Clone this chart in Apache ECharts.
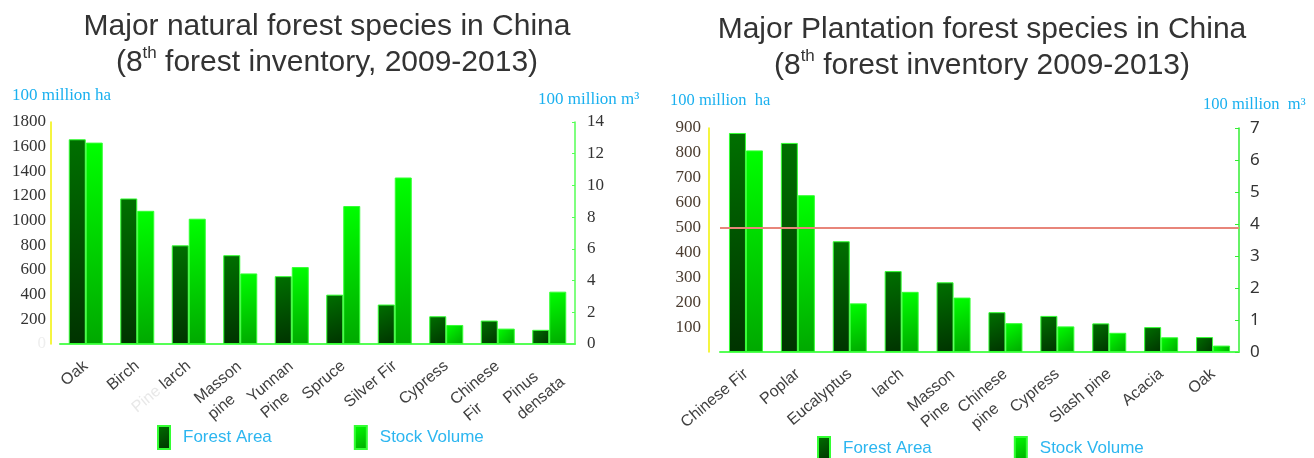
<!DOCTYPE html>
<html>
<head>
<meta charset="utf-8">
<script src="https://cdn.jsdelivr.net/npm/echarts@6/dist/echarts.min.js"></script>
<style>
  html, body { margin: 0; padding: 0; background: #fff; }
  #main { width: 1314px; height: 458px; }
</style>
</head>
<body>
<div id="main"></div>
<script>
// natural forest (left chart)
var naturalSpecies = ['Oak', 'Birch', 'larch', 'Masson\npine', 'Yunnan\nPine', 'Spruce', 'Silver Fir', 'Cypress', 'Chinese\nFir', 'Pinus\ndensata']
var naturalArea = [1660, 1180, 800, 720, 550, 400, 320, 225, 190, 115]
var naturalVolume = [12.7, 8.4, 7.9, 4.45, 4.85, 8.7, 10.5, 1.2, 0.97, 3.3]

// plantation forest (right chart)
var plantSpecies = ['Chinese Fir', 'Poplar', 'Eucalyptus', 'larch', 'Masson\nPine', 'Chinese\npine', 'Cypress', 'Slash pine', 'Acacia', 'Oak']
var plantArea = [880, 840, 445, 325, 280, 160, 145, 115, 100, 60]
var plantVolume = [6.3, 4.9, 1.52, 1.88, 1.7, 0.9, 0.8, 0.6, 0.46, 0.2]

var legendNames = ['Forest Area', 'Stock Volume']

var darkFill = new echarts.graphic.LinearGradient(0, 0, 1, 1, [
  { offset: 0, color: '#007000' },
  { offset: 1, color: '#003300' }
])
var lightFill = new echarts.graphic.LinearGradient(0, 0, 1, 1, [
  { offset: 0, color: '#00ff00' },
  { offset: 1, color: '#00a800' }
])

var titleFont = 'Liberation Sans, Arial, sans-serif'
var serifFont = 'Liberation Serif, Times New Roman, serif'
var labelSize = 16

// measure label lines so two-line labels stay left aligned
var ctx = document.createElement('canvas').getContext('2d')
ctx.font = labelSize + 'px Liberation Sans'
function textW(s) { return Math.ceil(ctx.measureText(s).width) }

function buildRich(cats) {
  var rich = { g: { color: '#e8e8e8', fontFamily: titleFont, fontSize: labelSize } }
  cats.forEach(function (c, i) {
    var lines = c.split('\n')
    if (lines.length > 1) {
      rich['w' + i] = {
        width: Math.max.apply(null, lines.map(textW)), align: 'left',
        fontFamily: titleFont, fontSize: labelSize, color: '#404040', lineHeight: 21
      }
    }
  })
  return rich
}

function labelFormatter(cats, ghost) {
  return function (v, idx) {
    var lines = v.split('\n')
    if (lines.length > 1) {
      var key = 'w' + idx
      return '{' + key + '| }\n' + lines.map(function (l) { return '{' + key + '|' + l + '}' }).join('\n')
    }
    if (ghost && v === 'larch') return '{g|Pine }larch'
    return v
  }
}

function mainTitle(x, y, line1, line2a, line2b) {
  return {
    left: x, top: y, textAlign: 'center', padding: 0,
    text: line1 + '\n{a|' + line2a + '}{s|th}{a|' + line2b + '}',
    textStyle: {
      fontFamily: titleFont, fontSize: 30, fontWeight: 'normal', color: '#333', lineHeight: 36,
      rich: {
        a: { fontFamily: titleFont, fontSize: 30, color: '#333', lineHeight: 36 },
        s: { fontFamily: titleFont, fontSize: 17, color: '#333', verticalAlign: 'top', lineHeight: 30 }
      }
    }
  }
}

function unitTitle(x, y, txt, size) {
  return {
    left: x, top: y, padding: 0, text: txt,
    textStyle: { fontFamily: serifFont, fontSize: size, fontWeight: 'normal', color: '#1ab0ef' }
  }
}

function barAxis(grid, cats, ghost) {
  return {
    type: 'category', gridIndex: grid, data: cats,
    axisLine: { lineStyle: { color: '#55ff55', width: 2 } },
    axisTick: { show: false },
    axisLabel: {
      rotate: 40, margin: 20, interval: 0,
      fontFamily: titleFont, fontSize: labelSize, color: '#404040', lineHeight: 21,
      formatter: labelFormatter(cats, ghost),
      rich: buildRich(cats)
    }
  }
}

function legendAt(x, y) {
  return {
    left: x, top: y, padding: 0, itemWidth: 12, itemHeight: 23, itemGap: 82, icon: 'rect',
    data: legendNames,
    textStyle: { fontFamily: titleFont, fontSize: 17, color: '#2cb6f0', padding: [0, 0, 0, 8] }
  }
}

var barBorder = { borderColor: '#33ff33', borderWidth: 1 }

var option = {
  backgroundColor: '#fff',
  animation: false,
  title: [
    mainTitle(327, 9, 'Major natural forest species in China', '(8', ' forest inventory, 2009-2013)'),
    mainTitle(982, 12, 'Major Plantation forest species in China', '(8', ' forest inventory 2009-2013)'),
    unitTitle(12, 87, '100 million ha', 17),
    unitTitle(538, 91, '100 million m³', 17),
    unitTitle(670, 92, '100 million  ha', 16.5),
    unitTitle(1203, 96, '100 million  m³', 16.5)
  ],
  legend: [legendAt(157, 425), legendAt(817, 436)],
  grid: [
    { left: 60, width: 515, top: 122, height: 222 },
    { left: 720, width: 519, top: 128, height: 224 }
  ],
  xAxis: [
    barAxis(0, naturalSpecies, true),
    barAxis(1, plantSpecies, false)
  ],
  yAxis: [
    {
      type: 'value', gridIndex: 0, position: 'left', offset: 9,
      min: 0, max: 1800, interval: 200, splitLine: { show: false },
      axisLine: { show: true, lineStyle: { color: '#f2f200', width: 1.5 } },
      axisTick: { show: false },
      axisLabel: {
        margin: 5, fontFamily: serifFont, fontSize: 17, color: '#333',
        formatter: function (v) { return v === 0 ? '{f|0}' : v },
        rich: { f: { color: '#eeeeee', fontFamily: serifFont, fontSize: 17 } }
      }
    },
    {
      type: 'value', gridIndex: 0, position: 'right',
      min: 0, max: 14, interval: 2, splitLine: { show: false },
      axisLine: { show: true, lineStyle: { color: '#55ff55', width: 1.5 } },
      axisTick: { show: true, inside: true, length: 3, lineStyle: { color: '#55ff55' } },
      axisLabel: { margin: 12, fontFamily: serifFont, fontSize: 17, color: '#333' }
    },
    {
      type: 'value', gridIndex: 1, position: 'left', offset: 11,
      min: 0, max: 900, interval: 100, splitLine: { show: false },
      axisLine: { show: true, lineStyle: { color: '#f2f200', width: 1.5 } },
      axisTick: { show: false },
      axisLabel: { margin: 8, showMinLabel: false, fontFamily: serifFont, fontSize: 17, color: '#4a3c30' }
    },
    {
      type: 'value', gridIndex: 1, position: 'right',
      min: 0, max: 7, interval: 1, splitLine: { show: false },
      axisLine: { show: true, lineStyle: { color: '#33ee33', width: 1.5 } },
      axisTick: { show: true, inside: true, length: 4, lineStyle: { color: '#33ee33' } },
      axisLabel: { margin: 11, fontFamily: 'Noto Sans, sans-serif', fontSize: 17, color: '#333' }
    }
  ],
  series: [
    {
      name: 'Forest Area', type: 'bar', xAxisIndex: 0, yAxisIndex: 0,
      barWidth: 17, barGap: '0%', data: naturalArea,
      itemStyle: Object.assign({ color: darkFill }, barBorder)
    },
    {
      name: 'Stock Volume', type: 'bar', xAxisIndex: 0, yAxisIndex: 1,
      barWidth: 17, barGap: '0%', data: naturalVolume,
      itemStyle: Object.assign({ color: lightFill }, barBorder)
    },
    {
      name: 'Forest Area', type: 'bar', xAxisIndex: 1, yAxisIndex: 2,
      barWidth: 17, barGap: '0%', data: plantArea,
      itemStyle: Object.assign({ color: darkFill }, barBorder),
      markLine: {
        silent: true, symbol: 'none', label: { show: false },
        lineStyle: { color: '#e8857a', width: 2, type: 'solid' },
        data: [{ yAxis: 500 }]
      }
    },
    {
      name: 'Stock Volume', type: 'bar', xAxisIndex: 1, yAxisIndex: 3,
      barWidth: 17, barGap: '0%', data: plantVolume,
      itemStyle: Object.assign({ color: lightFill }, barBorder)
    }
  ]
}

var chart = echarts.init(document.getElementById('main'))
chart.setOption(option)
</script>
</body>
</html>
